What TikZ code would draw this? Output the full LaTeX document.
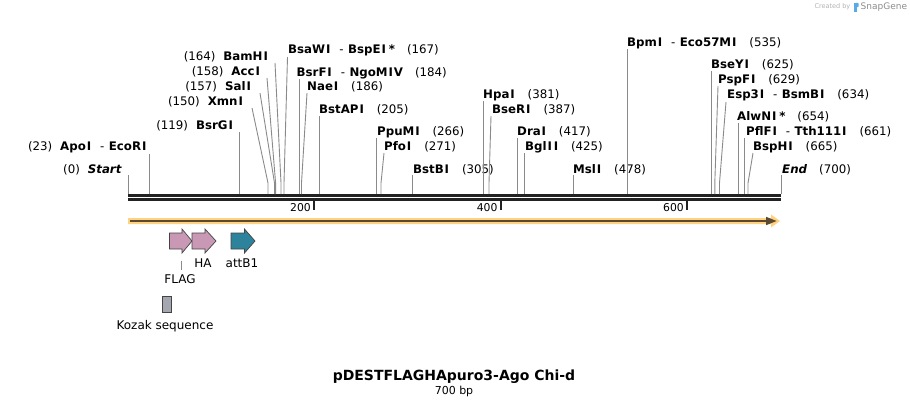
\documentclass[tikz,border=0pt]{standalone}
\usepackage{fontspec}
\setmainfont{DejaVu Sans}
\usetikzlibrary{arrows.meta}
\definecolor{cutgray}{HTML}{8A8A8A}
\definecolor{bb}{HTML}{222222}
\definecolor{orangeband}{HTML}{FFD27F}
\definecolor{darkband}{HTML}{5A4832}
\definecolor{pinkfeat}{HTML}{C898B4}
\definecolor{tealfeat}{HTML}{2E839C}
\definecolor{kozakgray}{HTML}{A4A7AF}
\definecolor{featedge}{HTML}{444444}
\newcommand\enzn[1]{\textbf{#1}}
\newcommand\Iw{\kern0.9pt I\kern0.9pt}
\newcommand\gapn{\hspace{12pt}}
\newcommand\dashn{\hspace{8pt}-\hspace{4.5pt}}
\begin{document}
\begin{tikzpicture}[x=1pt,y=-1pt,
  lab/.style={font=\fontsize{11.8}{13}\selectfont, inner sep=0pt, text=black},
  leftlab/.style={lab, anchor=east},
  rightlab/.style={lab, anchor=west},
  cut/.style={draw=cutgray, line width=0.9pt},
  backbone/.style={draw=bb, line width=2.7pt},
  tick/.style={draw=bb, line width=1.8pt},
  ticklab/.style={font=\fontsize{10.8}{12}\selectfont, inner sep=0pt, anchor=east},
  featlab/.style={font=\fontsize{12}{13}\selectfont, inner sep=0pt},
  feat/.style={draw=featedge, line width=0.7pt}
]
\useasboundingbox (0,0) rectangle (910,407);

% backbone
\coordinate (bbL1) at (128,195.3); \coordinate (bbR1) at (781,195.3);
\coordinate (bbL2) at (128,199.3); \coordinate (bbR2) at (781,199.3);
\draw[backbone] (bbL1) -- (bbR1);
\draw[backbone] (bbL2) -- (bbR2);

% ticks
\foreach \x/\t in {314/200, 500.6/400, 687/600}{
  \coordinate (tk\t a) at (\x,201); \coordinate (tk\t b) at (\x,209.5);
  \draw[tick] (tk\t a) -- (tk\t b);
  \node[ticklab] (tl\t) at (\x-3,207.5) {\t};
}

% orange arrow
\coordinate (orA) at (128,221); \coordinate (orB) at (771,221);
\fill[orangeband] (128,218) -- (771,218) -- (771,214.5) -- (780,221) -- (771,227.5) -- (771,224) -- (128,224) -- cycle;
\draw[darkband, line width=1.8pt] (130,221) -- (767,221);
\fill[darkband] (766,216.8) -- (776.5,221) -- (766,225.2) -- cycle;

% --- cut sites: left labels
\node[leftlab] (Lstart) at (122,169.5) {(0)\hspace{8pt}\textbf{\textit{Start}}};
\coordinate (tstart) at (128,175); \coordinate (sstart) at (128,194);
\draw[cut] (tstart) -- (sstart);

\node[leftlab] (Lapo) at (147.5,147) {(23)\hspace{8pt}\enzn{Apo\Iw}\dashn\enzn{EcoR\Iw}};
\coordinate (tapo) at (149.5,154); \coordinate (sapo) at (149.5,194);
\draw[cut] (tapo) -- (sapo);

\node[leftlab] (Lbsrg) at (234,126) {(119)\hspace{8pt}\enzn{BsrG\Iw}};
\coordinate (tbsrg) at (239.5,132); \coordinate (sbsrg) at (239.5,194);
\draw[cut] (tbsrg) -- (sbsrg);

\node[leftlab] (Lxmn) at (244,102) {(150)\hspace{8pt}\enzn{Xmn\Iw}};
\coordinate (txmn) at (252,108); \coordinate (kxmn) at (268,183); \coordinate (sxmn) at (268,194);
\draw[cut] (txmn) -- (kxmn) -- (sxmn);

\node[leftlab] (Lsal) at (252,87) {(157)\hspace{8pt}\enzn{Sal\Iw}};
\coordinate (tsal) at (260,93); \coordinate (ksal) at (274.5,183); \coordinate (ssal) at (274.5,194);
\draw[cut] (tsal) -- (ksal) -- (ssal);

\node[leftlab] (Lacc) at (261,72) {(158)\hspace{8pt}\enzn{Acc\Iw}};
\coordinate (tacc) at (267,78); \coordinate (kacc) at (275.6,183); \coordinate (sacc) at (275.6,194);
\draw[cut] (tacc) -- (kacc) -- (sacc);

\node[leftlab] (Lbam) at (269,57) {(164)\hspace{8pt}\enzn{BamH\Iw}};
\coordinate (tbam) at (275,63); \coordinate (kbam) at (281,183); \coordinate (sbam) at (281,194);
\draw[cut] (tbam) -- (kbam) -- (sbam);

% --- right labels
\node[rightlab] (Lbsaw) at (288,50) {\enzn{BsaW\Iw}\dashn\enzn{BspE\Iw}\,\enzn{*}\gapn(167)};
\coordinate (tbsaw) at (287.5,57); \coordinate (kbsaw) at (284,183); \coordinate (sbsaw) at (284,194);
\draw[cut] (tbsaw) -- (kbsaw) -- (sbsaw);

\node[rightlab] (Lbsrf) at (296.5,73) {\enzn{BsrF\Iw}\dashn\enzn{NgoM\Iw V}\gapn(184)};
\coordinate (tbsrf) at (299.6,79); \coordinate (sbsrf) at (299.6,194);
\draw[cut] (tbsrf) -- (sbsrf);

\node[rightlab] (Lnae) at (307,87) {\enzn{Nae\Iw}\gapn(186)};
\coordinate (tnae) at (307,93); \coordinate (knae) at (301.5,183); \coordinate (snae) at (301.5,194);
\draw[cut] (tnae) -- (knae) -- (snae);

\node[rightlab] (Lbstap) at (319,110) {\enzn{BstAP\Iw}\gapn(205)};
\coordinate (tbstap) at (319,116); \coordinate (sbstap) at (319,194);
\draw[cut] (tbstap) -- (sbstap);

\node[rightlab] (Lppu) at (377,132) {\enzn{PpuM\Iw}\gapn(266)};
\coordinate (tppu) at (376.5,138); \coordinate (sppu) at (376.5,194);
\draw[cut] (tppu) -- (sppu);

\node[rightlab] (Lpfo) at (384,147) {\enzn{Pfo\Iw}\gapn(271)};
\coordinate (tpfo) at (384,153); \coordinate (kpfo) at (381,183); \coordinate (spfo) at (381,194);
\draw[cut] (tpfo) -- (kpfo) -- (spfo);

\node[rightlab] (Lbstb) at (413,169.5) {\enzn{BstB\Iw}\gapn(305)};
\coordinate (tbstb) at (412.5,175); \coordinate (sbstb) at (412.5,194);
\draw[cut] (tbstb) -- (sbstb);

\node[rightlab] (Lhpa) at (483,95) {\enzn{Hpa\Iw}\gapn(381)};
\coordinate (thpa) at (483.4,101); \coordinate (shpa) at (483.4,194);
\draw[cut] (thpa) -- (shpa);

\node[rightlab] (Lbser) at (492,110) {\enzn{BseR\Iw}\gapn(387)};
\coordinate (tbser) at (491,116); \coordinate (kbser) at (489,183); \coordinate (sbser) at (489,194);
\draw[cut] (tbser) -- (kbser) -- (sbser);

\node[rightlab] (Ldra) at (517,132) {\enzn{Dra\Iw}\gapn(417)};
\coordinate (tdra) at (517,138); \coordinate (sdra) at (517,194);
\draw[cut] (tdra) -- (sdra);

\node[rightlab] (Lbgl) at (525,147) {\enzn{Bgl\Iw\Iw}\gapn(425)};
\coordinate (tbgl) at (524.5,153); \coordinate (sbgl) at (524.5,194);
\draw[cut] (tbgl) -- (sbgl);

\node[rightlab] (Lmsl) at (573,169.5) {\enzn{Msl\Iw}\gapn(478)};
\coordinate (tmsl) at (573.5,175); \coordinate (smsl) at (573.5,194);
\draw[cut] (tmsl) -- (smsl);

\node[rightlab] (Lbpm) at (627,43) {\enzn{Bpm\Iw}\dashn\enzn{Eco57M\Iw}\gapn(535)};
\coordinate (tbpm) at (627,49); \coordinate (sbpm) at (627,194);
\draw[cut] (tbpm) -- (sbpm);

\node[rightlab] (Lbsey) at (711,64.5) {\enzn{BseY\Iw}\gapn(625)};
\coordinate (tbsey) at (711,71); \coordinate (sbsey) at (711,194);
\draw[cut] (tbsey) -- (sbsey);

\node[rightlab] (Lpspf) at (718,80) {\enzn{PspF\Iw}\gapn(629)};
\coordinate (tpspf) at (718,86); \coordinate (kpspf) at (714.8,183); \coordinate (spspf) at (714.8,194);
\draw[cut] (tpspf) -- (kpspf) -- (spspf);

\node[rightlab] (Lesp) at (727,95) {\enzn{Esp3\Iw}\dashn\enzn{BsmB\Iw}\gapn(634)};
\coordinate (tesp) at (726,102); \coordinate (kesp) at (719.5,183); \coordinate (sesp) at (719.5,194);
\draw[cut] (tesp) -- (kesp) -- (sesp);

\node[rightlab] (Lalw) at (737,117) {\enzn{AlwN\Iw}\,\enzn{*}\gapn(654)};
\coordinate (talw) at (738,123); \coordinate (salw) at (738,194);
\draw[cut] (talw) -- (salw);

\node[rightlab] (Lpfl) at (746,132) {\enzn{PflF\Iw}\dashn\enzn{Tth111\Iw}\gapn(661)};
\coordinate (tpfl) at (744.6,138); \coordinate (spfl) at (744.6,194);
\draw[cut] (tpfl) -- (spfl);

\node[rightlab] (Lbsph) at (753,147) {\enzn{BspH\Iw}\gapn(665)};
\coordinate (tbsph) at (753,153); \coordinate (kbsph) at (748,183); \coordinate (sbsph) at (748,194);
\draw[cut] (tbsph) -- (kbsph) -- (sbsph);

\node[rightlab] (Lend) at (782,169.5) {\textbf{\textit{End}}\gapn(700)};
\coordinate (tend) at (781,175); \coordinate (send) at (781,194);
\draw[cut] (tend) -- (send);

% --- features
\draw[feat, fill=pinkfeat] (169.5,233) -- (182,233) -- (182,229) -- (192,241) -- (182,253) -- (182,249) -- (169.5,249) -- cycle;
\draw[feat, fill=pinkfeat] (192,233) -- (205,233) -- (205,229) -- (216,241) -- (205,253) -- (205,249) -- (192,249) -- cycle;
\draw[feat, fill=tealfeat] (231,233) -- (244.5,233) -- (244.5,229) -- (255,241) -- (244.5,253) -- (244.5,249) -- (231,249) -- cycle;

\coordinate (flagA) at (181,260.5); \coordinate (flagB) at (181,270);
\draw[cut, line width=0.7pt] (flagA) -- (flagB);
\node[featlab] (Lflag) at (180,279) {FLAG};
\node[featlab] (Lha) at (203,263) {HA};
\node[featlab] (Latt) at (242,263) {attB1};

\draw[feat, fill=kozakgray] (162.5,296) rectangle (171,312.5);
\node[featlab] (Lkozak) at (165,326) {Kozak sequence};

% title
\node[inner sep=0pt, font=\fontsize{14}{16}\selectfont\bfseries] (title) at (454,376.5) {pDESTFLAGHApuro3-Ago Chi-d};
\node[inner sep=0pt, font=\fontsize{11}{12}\selectfont] (size) at (454,391.5) {700 bp};

% watermark
\node[inner sep=0pt, anchor=east, font=\fontsize{6.5}{8}\selectfont, text=black!30] (wm1) at (850.5,7) {Created by};
\fill[color={rgb,255:red,90;green,170;blue,230}] (853.5,2.5) rectangle (856.5,11.5);
\fill[color={rgb,255:red,90;green,170;blue,230}] (856.5,2.5) -- (858.5,3.5) -- (858.5,6.5) -- (856.5,7.5) -- cycle;
\node[inner sep=0pt, anchor=west, font=\fontsize{9}{10}\selectfont, text=black!45] (wm2) at (860.5,7) {SnapGene};
\end{tikzpicture}
\end{document}
